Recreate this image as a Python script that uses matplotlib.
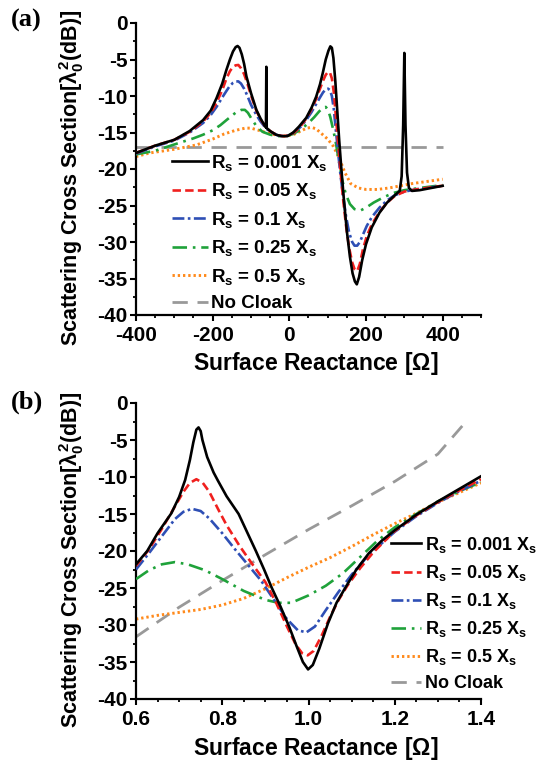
import numpy as np
import matplotlib
matplotlib.use('Agg')
import matplotlib.pyplot as plt
from matplotlib.ticker import MultipleLocator, FormatStrFormatter

plt.rcParams['font.family'] = ['Liberation Sans', 'DejaVu Sans']
plt.rcParams['font.weight'] = 'bold'
plt.rcParams['axes.labelweight'] = 'bold'
plt.rcParams['axes.unicode_minus'] = False
plt.rcParams['mathtext.fontset'] = 'custom'
plt.rcParams['mathtext.rm'] = 'Liberation Sans:bold'
plt.rcParams['mathtext.it'] = 'Liberation Sans:bold'
plt.rcParams['mathtext.bf'] = 'Liberation Sans:bold'

# ---- panel (a): scattering vs surface reactance [Ohm] ----
xa_black = [-400, -350, -300, -260, -225, -205, -190, -175, -164, -155, -147, -140, -135, -130,
            -124, -118, -112, -100, -86, -75, -64, -61, -60, -59, -50, -35, -20, -5,
            10, 25, 44, 58, 70, 80, 87, 95, 102, 107, 111, 115, 120, 125, 130, 135, 142,
            150, 158, 165, 171, 176, 182, 190, 200, 215, 235, 255, 275, 288, 293, 297, 300,
            303, 307, 312, 320, 340, 370, 400]
ya_black = [-17.8, -16.8, -16.0, -14.8, -13.3, -12.0, -10.3, -8.3, -6.4, -5.0, -3.9, -3.3, -3.15, -3.4,
            -4.3, -5.6, -7.3, -9.6, -11.9, -13.1, -14.1, -14.3, -6.0, -14.4, -14.8, -15.3, -15.5, -15.5,
            -15.0, -14.2, -13.0, -11.6, -10.1, -8.4, -6.9, -5.0, -3.8, -3.2, -3.4, -4.8, -8.0, -12.0, -16.0, -19.5, -24.0,
            -28.5, -32.0, -34.3, -35.4, -35.8, -34.8, -32.5, -30.3, -28.0, -26.0, -24.6, -23.6, -23.0, -21.0, -14.0, -4.1,
            -14.0, -20.5, -22.6, -23.0, -22.9, -22.6, -22.3]

xa_mid = [-400, -350, -300, -260, -225, -205, -190, -175, -164, -155, -147, -140, -133,
          -126, -118, -110, -100, -86, -75, -60, -45, -30, -15, 0,
          15, 30, 44, 58, 70, 80, 88, 95, 101, 106, 111, 116, 121, 127, 133, 140,
          148, 156, 164, 170, 177, 184, 192, 202, 215, 235, 255, 275, 300, 330, 370, 400]
ya_red = [-17.8, -16.8, -16.0, -14.9, -13.5, -12.3, -10.9, -9.2, -7.6, -6.6, -6.0, -5.8, -5.75,
          -6.2, -7.0, -8.2, -9.9, -12.0, -13.2, -14.4, -15.0, -15.4, -15.5, -15.4,
          -14.9, -14.1, -13.1, -11.8, -10.4, -9.0, -7.9, -7.1, -6.7, -6.8, -7.6, -9.5, -12.5, -16.3, -20.0, -24.0,
          -27.8, -30.8, -32.8, -33.7, -34.0, -33.0, -31.0, -29.2, -27.6, -25.9, -24.6, -23.7, -23.1, -22.8, -22.5, -22.3]
ya_blue = [-17.9, -16.9, -16.1, -15.0, -13.7, -12.6, -11.5, -10.2, -9.3, -8.6, -8.2, -8.0, -8.0,
           -8.3, -9.0, -9.9, -11.2, -12.6, -13.5, -14.5, -15.0, -15.4, -15.5, -15.4,
           -14.9, -14.2, -13.3, -12.2, -11.1, -10.2, -9.5, -9.1, -9.0, -9.2, -10.0, -11.8, -14.5, -17.6, -20.6, -23.6,
           -26.5, -28.7, -30.0, -30.5, -30.5, -30.0, -29.0, -27.8, -26.6, -25.3, -24.3, -23.6, -23.1, -22.8, -22.5, -22.3]

xa_green = [-400, -350, -286, -250, -225, -200, -180, -164, -150, -138, -125, -116, -108, -100,
            -85, -70, -50, -30, -10, 10, 30, 50, 65, 78, 88, 95, 101, 107, 113, 120, 128, 137, 147,
            158, 170, 185, 200, 220, 245, 270, 300, 340, 400]
ya_green = [-18.0, -17.5, -16.4, -15.8, -15.3, -14.7, -14.0, -13.3, -12.7, -12.2, -11.9, -11.9, -12.3, -13.0,
            -14.2, -14.9, -15.3, -15.5, -15.5, -15.2, -14.6, -13.7, -12.9, -12.1, -11.6, -11.5, -11.9, -12.9, -14.3, -16.0, -18.5, -21.3, -23.4,
            -24.8, -25.5, -25.7, -25.3, -24.6, -23.9, -23.3, -22.9, -22.6, -22.2]

xa_orange = [-400, -364, -300, -242, -200, -170, -140, -115, -100, -80, -55, -30, -10, 10, 30, 45, 58,
             70, 85, 100, 115, 130, 145, 160, 180, 200, 230, 260, 290, 320, 360, 400]
ya_orange = [-18.3, -17.8, -17.3, -16.7, -15.9, -15.2, -14.7, -14.4, -14.4, -14.7, -15.1, -15.4, -15.5, -15.3, -14.8, -14.4, -14.3,
             -14.5, -15.2, -15.9, -16.9, -18.5, -20.5, -22.0, -22.6, -22.8, -22.8, -22.6, -22.3, -22.0, -21.7, -21.4]

xa_nocloak = [-400, 400]
ya_nocloak = [-17.0, -17.0]

# ---- panel (b) ----
xb_black = [0.6, 0.626, 0.65, 0.682, 0.70, 0.714, 0.725, 0.733, 0.74, 0.745, 0.75, 0.754, 0.765, 0.78,
            0.79, 0.81, 0.838, 0.858, 0.878, 0.897, 0.915, 0.935, 0.955, 0.972, 0.987, 0.999, 1.01,
            1.025, 1.045, 1.065, 1.085, 1.11, 1.14, 1.17, 1.2, 1.25, 1.3, 1.35, 1.4]
yb_black = [-21.8, -20.0, -17.6, -14.9, -12.7, -10.4, -7.7, -5.3, -3.6, -3.3, -3.8, -5.0, -7.3, -9.4,
            -10.5, -12.6, -15.0, -17.5, -20.0, -22.5, -25.0, -27.5, -30.2, -32.8, -35.0, -36.0, -35.4,
            -33.2, -29.8, -27.0, -25.0, -22.6, -20.3, -18.6, -17.2, -15.1, -13.3, -11.6, -9.9]

xb_red = [0.6, 0.63, 0.66, 0.69, 0.71, 0.725, 0.74, 0.755, 0.77, 0.79, 0.81, 0.84, 0.87, 0.9, 0.925,
          0.95, 0.97, 0.985, 0.998, 1.012, 1.03, 1.05, 1.07, 1.09, 1.12, 1.15, 1.2, 1.25, 1.3, 1.35, 1.4]
yb_red = [-22.0, -19.8, -17.0, -14.0, -12.0, -10.8, -10.3, -10.8, -12.0, -14.3, -16.5, -19.3, -21.8, -24.2, -27.0,
          -30.2, -32.6, -33.8, -34.1, -33.5, -31.5, -28.9, -26.6, -24.7, -22.3, -20.2, -17.3, -15.2, -13.4, -11.8, -10.3]

xb_blue = [0.6, 0.63, 0.66, 0.69, 0.71, 0.73, 0.75, 0.77, 0.8, 0.83, 0.86, 0.89, 0.92, 0.95, 0.975,
           0.995, 1.015, 1.04, 1.07, 1.1, 1.14, 1.2, 1.25, 1.3, 1.35, 1.4]
yb_blue = [-22.5, -20.3, -18.0, -15.7, -14.7, -14.3, -14.6, -15.6, -17.6, -19.8, -21.9, -24.0, -26.6, -29.2, -30.7,
           -31.0, -30.2, -28.0, -25.5, -23.2, -20.5, -17.4, -15.3, -13.5, -11.9, -10.5]

xb_green = [0.6, 0.63, 0.66, 0.69, 0.72, 0.76, 0.8, 0.85, 0.9, 0.93, 0.96, 1.0, 1.04, 1.08, 1.12,
            1.16, 1.2, 1.25, 1.3, 1.35, 1.4]
yb_green = [-23.8, -22.6, -21.8, -21.5, -21.8, -22.6, -23.8, -25.4, -26.6, -27.0, -27.0, -26.0, -24.7, -23.0, -20.8,
            -18.6, -16.8, -15.0, -13.3, -11.9, -10.7]

xb_orange = [0.6, 0.65, 0.7, 0.75, 0.8, 0.85, 0.9, 0.95, 1.0, 1.05, 1.1, 1.15, 1.2, 1.25, 1.3, 1.35, 1.4]
yb_orange = [-29.2, -28.7, -28.3, -27.9, -27.3, -26.4, -25.1, -23.6, -22.2, -20.9, -19.4, -17.8, -16.3, -14.9, -13.4, -12.1, -10.8]

xb_nocloak = [0.6, 0.7, 0.8, 0.9, 1.0, 1.1, 1.2, 1.3, 1.37]
yb_nocloak = [-31.6, -27.6, -24.0, -20.5, -17.1, -13.9, -10.6, -6.9, -2.2]

labels = [r'R$_\mathregular{s}$ = 0.001 X$_\mathregular{s}$',
          r'R$_\mathregular{s}$ = 0.05 X$_\mathregular{s}$',
          r'R$_\mathregular{s}$ = 0.1 X$_\mathregular{s}$',
          r'R$_\mathregular{s}$ = 0.25 X$_\mathregular{s}$',
          r'R$_\mathregular{s}$ = 0.5 X$_\mathregular{s}$',
          'No Cloak']

styles = [dict(color='black', lw=1.9, ls='-'),
          dict(color='#f0201e', lw=1.9, dashes=(3.2, 1.6)),
          dict(color='#2e4fb5', lw=1.9, dashes=(4.5, 1.3, 1.0, 1.3)),
          dict(color='#1fa23a', lw=1.9, dashes=(5.5, 2.2, 1.0, 2.2)),
          dict(color='#ff8a1c', lw=2.1, dashes=(0.8, 1.0)),
          dict(color='#999999', lw=2.0, dashes=(5.5, 3.5))]

fig = plt.figure(figsize=(5.4, 7.63), dpi=100)
ax_a = fig.add_axes([136/540, 1-315/763, 345/540, 292/763])
ax_b = fig.add_axes([136/540, 1-699/763, 345/540, 296/763])

data_a = [(xa_black, ya_black), (xa_mid, ya_red), (xa_mid, ya_blue),
          (xa_green, ya_green), (xa_orange, ya_orange), (xa_nocloak, ya_nocloak)]
data_b = [(xb_black, yb_black), (xb_red, yb_red), (xb_blue, yb_blue),
          (xb_green, yb_green), (xb_orange, yb_orange), (xb_nocloak, yb_nocloak)]

for ax, data in [(ax_a, data_a), (ax_b, data_b)]:
    handles = []
    for (x, y), lab, st in zip(data, labels, styles):
        h, = ax.plot(x, y, label=lab, **st)
        handles.append(h)
    # black on top, grey at the back
    for h, z in zip(handles, [6, 5, 4, 3, 2, 1]):
        h.set_zorder(z)
    ax.set_ylim(-40, 0)
    ax.yaxis.set_major_locator(MultipleLocator(5))
    ax.yaxis.set_minor_locator(MultipleLocator(2.5))
    for s in ['top', 'right']:
        ax.spines[s].set_visible(False)
    for s in ['left', 'bottom']:
        ax.spines[s].set_linewidth(1.6)
    ax.tick_params(which='major', direction='out', length=4, width=1.5, labelsize=15)
    ax.tick_params(axis='x', which='major', pad=4)
    ax.tick_params(axis='y', which='major', pad=2)
    ax.tick_params(which='minor', direction='out', length=2.5, width=1.3)
    ax.set_ylabel(r'Scattering Cross Section[$\lambda_0^2$(dB)]', fontsize=15.5, weight='bold')
    ax.set_xlabel(r'Surface Reactance [$\Omega$]', fontsize=16.5, weight='bold')
    ax.yaxis.set_label_coords(-0.145, 0.47)
    ax.xaxis.set_label_coords(0.52, -0.12)

ax_a.set_xlim(-400, 500)
ax_a.xaxis.set_major_locator(MultipleLocator(200))
ax_a.xaxis.set_minor_locator(MultipleLocator(50))
ax_b.set_xlim(0.6, 1.4)
ax_b.xaxis.set_major_locator(MultipleLocator(0.2))
ax_b.xaxis.set_minor_locator(MultipleLocator(0.05))
ax_b.xaxis.set_major_formatter(FormatStrFormatter('%.1f'))
for ax in (ax_a, ax_b):
    for t in ax.get_xticklabels() + ax.get_yticklabels():
        t.set_fontweight('bold')

leg_kw = dict(frameon=False, handletextpad=0.2,
              labelspacing=0.45, borderpad=0, borderaxespad=0, loc='upper left')
ax_a.legend(bbox_to_anchor=(0.104, 0.555), handlelength=1.9,
            prop=dict(weight='bold', size=13.5), **leg_kw)
ax_b.legend(bbox_to_anchor=(0.738, 0.555), handlelength=1.7,
            prop=dict(weight='bold', size=13), **leg_kw)

fig.text(0.02, 1-20/763, '(a)', family='Liberation Serif', weight='bold', fontsize=19, va='center')
fig.text(0.02, 1-402/763, '(b)', family='Liberation Serif', weight='bold', fontsize=19, va='center')

fig.savefig('out.png', dpi=100)
